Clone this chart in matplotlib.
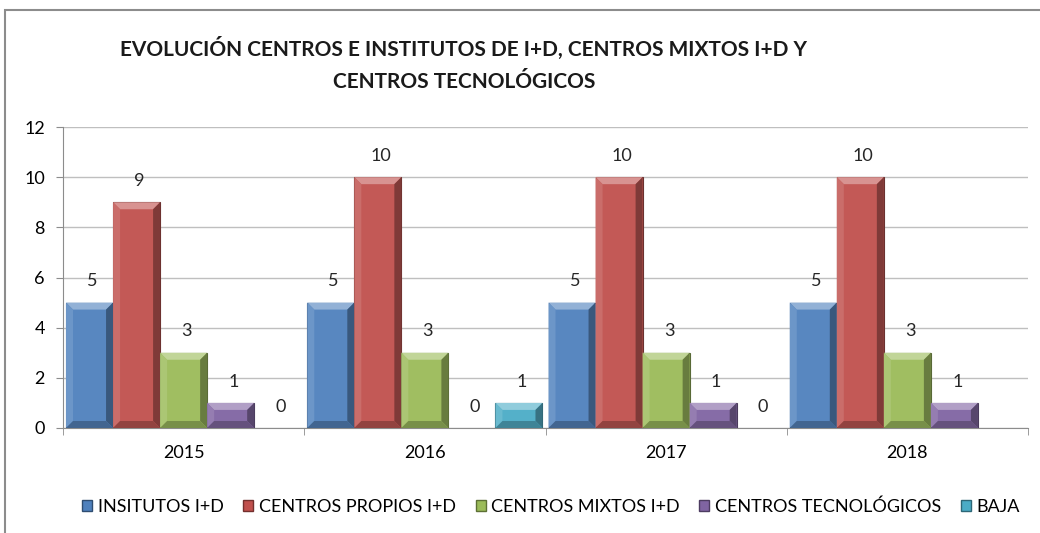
import matplotlib
matplotlib.use("Agg")
from matplotlib import pyplot as plt
from matplotlib.patches import Polygon, Rectangle, Patch
from matplotlib.colors import to_rgb
import numpy as np

# data
years = ["2015", "2016", "2017", "2018"]
series_names = ["INSITUTOS I+D", "CENTROS PROPIOS I+D", "CENTROS MIXTOS I+D",
                "CENTROS TECNOLÓGICOS", "BAJA"]
institutos = [5, 5, 5, 5]
propios = [9, 10, 10, 10]
mixtos = [3, 3, 3, 3]
tecnologicos = [1, 0, 1, 1]
baja = [0, 1, 0, np.nan]
series_values = [institutos, propios, mixtos, tecnologicos, baja]
colors = ["#4F81BD", "#C0504D", "#9BBB59", "#8064A2", "#4BACC6"]

plt.rcParams["font.family"] = ["Lato", "DejaVu Sans"]


def mix(c, other, t):
    c = np.array(to_rgb(c))
    o = np.array(to_rgb(other))
    return tuple(c * (1 - t) + o * t)


def bevel_bar(ax, x0, x1, h, color, dx, dy):
    # flat bar with a simple bevel, in the look of Excel's bar style
    ax.add_patch(Rectangle((x0, 0), x1 - x0, h, facecolor=color,
                           edgecolor=mix(color, "black", 0.45), linewidth=0.8, zorder=3))
    dy = min(dy, h / 2.5)
    top = [(x0, h), (x1, h), (x1 - dx, h - dy), (x0 + dx, h - dy)]
    left = [(x0, 0), (x0, h), (x0 + dx, h - dy), (x0 + dx, dy)]
    right = [(x1, 0), (x1, h), (x1 - dx, h - dy), (x1 - dx, dy)]
    bottom = [(x0, 0), (x1, 0), (x1 - dx, dy), (x0 + dx, dy)]
    ax.add_patch(Polygon(top, closed=True, facecolor=mix(color, "white", 0.35),
                         edgecolor="none", zorder=4))
    ax.add_patch(Polygon(left, closed=True, facecolor=mix(color, "white", 0.12),
                         edgecolor="none", zorder=4))
    ax.add_patch(Polygon(right, closed=True, facecolor=mix(color, "black", 0.35),
                         edgecolor="none", zorder=4))
    ax.add_patch(Polygon(bottom, closed=True, facecolor=mix(color, "black", 0.25),
                         edgecolor="none", zorder=4))


fig = plt.figure(figsize=(10.4, 5.33), dpi=100)

# chart frame (cut at the right and bottom like the reference)
fig.patches.append(Rectangle((5 / 1040, -0.1), 1.2, 1 - 10 / 533 + 0.1,
                             transform=fig.transFigure, facecolor="none",
                             edgecolor="#8C8C8C", linewidth=1.5))

ax = fig.add_axes([63 / 1040, 1 - 428 / 533, 965 / 1040, 301 / 533])

x = np.arange(len(years))
w = 0.195
dx = 7 / 241
dy = 7 / 301 * 12
for i, vals in enumerate(series_values):
    for j, v in enumerate(vals):
        if np.isnan(v):
            continue
        x0 = x[j] + (i - 2.5) * w
        if v > 0:
            bevel_bar(ax, x0, x0 + w, v, mix(colors[i], "white", 0.05), dx, dy)
        ax.text(x0 + w / 2 + 0.012, v + 0.85, "%d" % v, ha="center", va="center",
                fontsize=13, color="#262626", zorder=5)

ax.set_xlim(-0.5, 3.5)
ax.set_ylim(0, 12)
ax.set_yticks(np.arange(0, 13, 2))
ax.set_yticklabels([str(t) for t in range(0, 13, 2)], fontsize=13)
ax.yaxis.grid(True, color="#BFBFBF", linewidth=1)
ax.set_axisbelow(True)
ax.set_xticks(x)
ax.set_xticklabels(years, fontsize=13)
ax.set_xticks(np.arange(-0.5, 4, 1), minor=True)
ax.tick_params(axis="x", which="major", length=0, pad=12)
ax.tick_params(axis="x", which="minor", length=5, color="#8C8C8C")
ax.tick_params(axis="y", length=5, color="#8C8C8C", pad=8)
for s in ["top", "right"]:
    ax.spines[s].set_visible(False)
ax.spines["left"].set_color("#8C8C8C")
ax.spines["bottom"].set_color("#8C8C8C")

fig.text(464 / 1040, 1 - 48 / 533, "EVOLUCIÓN CENTROS E INSTITUTOS DE I+D, CENTROS MIXTOS I+D Y",
         ha="center", va="center", fontsize=15, fontweight="bold", color="#1a1a1a")
fig.text(464 / 1040, 1 - 82 / 533, "CENTROS TECNOLÓGICOS",
         ha="center", va="center", fontsize=15, fontweight="bold", color="#1a1a1a")

handles = [Patch(facecolor=c, edgecolor=mix(c, "black", 0.4)) for c in colors]
fig.legend(handles, series_names, loc="center", bbox_to_anchor=(551 / 1040, 1 - 507 / 533),
           ncol=5, frameon=False, fontsize=13, handlelength=0.55, handleheight=0.55,
           handletextpad=0.3, columnspacing=1.1)

fig.savefig("out.png", dpi=100, facecolor="white")
